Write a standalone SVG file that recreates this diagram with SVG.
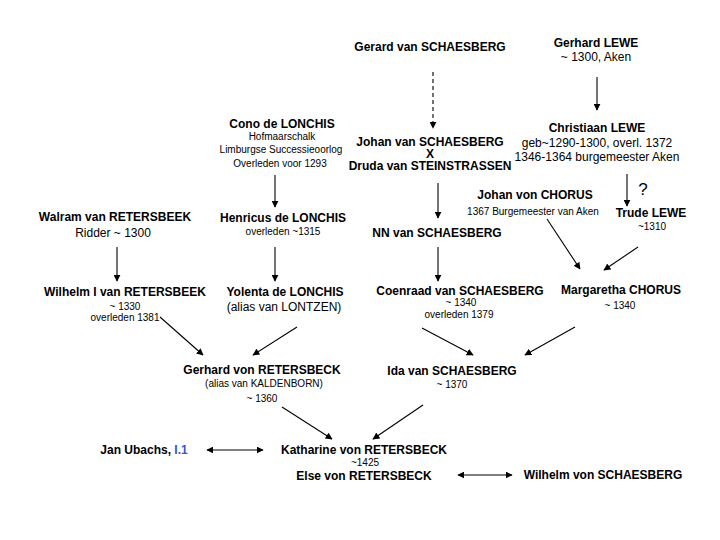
<svg xmlns="http://www.w3.org/2000/svg" width="720" height="540" viewBox="0 0 720 540">
<defs>
<style>
text{font-family:"Liberation Sans",Arial,sans-serif;fill:#000;text-anchor:middle}
.b{font-weight:bold;font-size:12px}
.n{font-size:12px}
.s{font-size:10px}
.q{font-size:17px}
.blue{fill:#3355cc}
.c{stroke:#000;stroke-width:1.1;fill:none}
.d{stroke-dasharray:4,3}
</style>
<marker id="ah" viewBox="0 0 10 10" refX="9" refY="5" markerWidth="7" markerHeight="7" markerUnits="userSpaceOnUse" orient="auto-start-reverse">
<path d="M0,0 L10,5 L0,10 z" fill="#000"/>
</marker>
</defs>
<rect width="720" height="540" fill="#fff"/>
<g id="connectors">
<line class="c d" x1="433" y1="72" x2="433" y2="128" marker-end="url(#ah)"/>
<line class="c" x1="597" y1="77" x2="597" y2="110" marker-end="url(#ah)"/>
<line class="c" x1="275" y1="175" x2="275" y2="207" marker-end="url(#ah)"/>
<line class="c" x1="438" y1="183" x2="438" y2="218" marker-end="url(#ah)"/>
<line class="c" x1="627" y1="174" x2="627" y2="206" marker-end="url(#ah)"/>
<line class="c" x1="117" y1="247" x2="117" y2="281" marker-end="url(#ah)"/>
<line class="c" x1="275" y1="247" x2="275" y2="281" marker-end="url(#ah)"/>
<line class="c" x1="438" y1="247" x2="438" y2="281" marker-end="url(#ah)"/>
<line class="c" x1="547" y1="219" x2="580" y2="269" marker-end="url(#ah)"/>
<line class="c" x1="638" y1="247" x2="604" y2="270" marker-end="url(#ah)"/>
<line class="c" x1="160" y1="317" x2="203" y2="355" marker-end="url(#ah)"/>
<line class="c" x1="297" y1="327" x2="253" y2="355" marker-end="url(#ah)"/>
<line class="c" x1="422" y1="328" x2="473" y2="355" marker-end="url(#ah)"/>
<line class="c" x1="575" y1="327" x2="525" y2="355" marker-end="url(#ah)"/>
<line class="c" x1="282" y1="407" x2="332" y2="439" marker-end="url(#ah)"/>
<line class="c" x1="423" y1="405" x2="373" y2="439" marker-end="url(#ah)"/>
<line class="c" x1="207" y1="450" x2="263" y2="450" marker-start="url(#ah)" marker-end="url(#ah)"/>
<line class="c" x1="458" y1="475" x2="512" y2="475" marker-start="url(#ah)" marker-end="url(#ah)"/>
</g>
<g id="gerard"><text class="b" x="430" y="51">Gerard van SCHAESBERG</text></g>
<g id="gerhard-lewe"><text class="b" x="596" y="47">Gerhard LEWE</text><text class="n" x="596" y="61">~ 1300, Aken</text></g>
<g id="christiaan"><text class="b" x="597" y="132">Christiaan LEWE</text><text class="n" x="597" y="147">geb~1290-1300, overl. 1372</text><text class="n" x="597" y="161">1346-1364 burgemeester Aken</text></g>
<g id="johan"><text class="b" x="430" y="146">Johan van SCHAESBERG<tspan x="430" dy="12">X</tspan><tspan x="430" dy="12">Druda van STEINSTRASSEN</tspan></text></g>
<g id="cono"><text class="b" x="282" y="128">Cono de LONCHIS</text><text class="s" x="282" y="140">Hofmaarschalk</text><text class="s" x="281" y="153">Limburgse Successieoorlog</text><text class="s" x="280" y="167">Overleden voor 1293</text></g>
<g id="chorus"><text class="b" x="535" y="199">Johan von CHORUS</text><text class="s" x="533" y="215">1367 Burgemeester van Aken</text></g>
<g id="question"><text class="q" x="643" y="195">?</text></g>
<g id="trude"><text class="b" x="651" y="217">Trude LEWE</text><text class="s" x="652" y="230">~1310</text></g>
<g id="walram"><text class="b" x="115" y="221">Walram van RETERSBEEK</text><text class="n" x="113" y="237">Ridder ~ 1300</text></g>
<g id="henricus"><text class="b" x="283" y="222">Henricus de LONCHIS</text><text class="s" x="283" y="235">overleden ~1315</text></g>
<g id="nn"><text class="b" x="437" y="237">NN van SCHAESBERG</text></g>
<g id="wilhelm-i"><text class="b" x="125" y="296">Wilhelm I van RETERSBEEK</text><text class="s" x="125" y="310">~ 1330</text><text class="s" x="125" y="321">overleden 1381</text></g>
<g id="yolenta"><text class="b" x="285" y="296">Yolenta de LONCHIS</text><text class="n" x="284" y="311">(alias van LONTZEN)</text></g>
<g id="coenraad"><text class="b" x="460" y="295">Coenraad van SCHAESBERG</text><text class="s" x="461" y="306">~ 1340</text><text class="s" x="459" y="318">overleden 1379</text></g>
<g id="margaretha"><text class="b" x="621" y="294">Margaretha CHORUS</text><text class="s" x="620" y="309">~ 1340</text></g>
<g id="gerhard-von"><text class="b" x="262" y="374">Gerhard von RETERSBECK</text><text class="s" x="264" y="387">(alias van KALDENBORN)</text><text class="s" x="262" y="402">~ 1360</text></g>
<g id="ida"><text class="b" x="452" y="375">Ida van SCHAESBERG</text><text class="s" x="452" y="388">~ 1370</text></g>
<g id="jan"><text class="b" x="144" y="454">Jan Ubachs, <tspan class="blue">I.1</tspan></text></g>
<g id="katharine"><text class="b" x="364" y="454">Katharine von RETERSBECK</text><text class="s" x="365" y="466">~1425</text><text class="b" x="364" y="480">Else von RETERSBECK</text></g>
<g id="wilhelm-von"><text class="b" x="603" y="479">Wilhelm von SCHAESBERG</text></g>
</svg>
